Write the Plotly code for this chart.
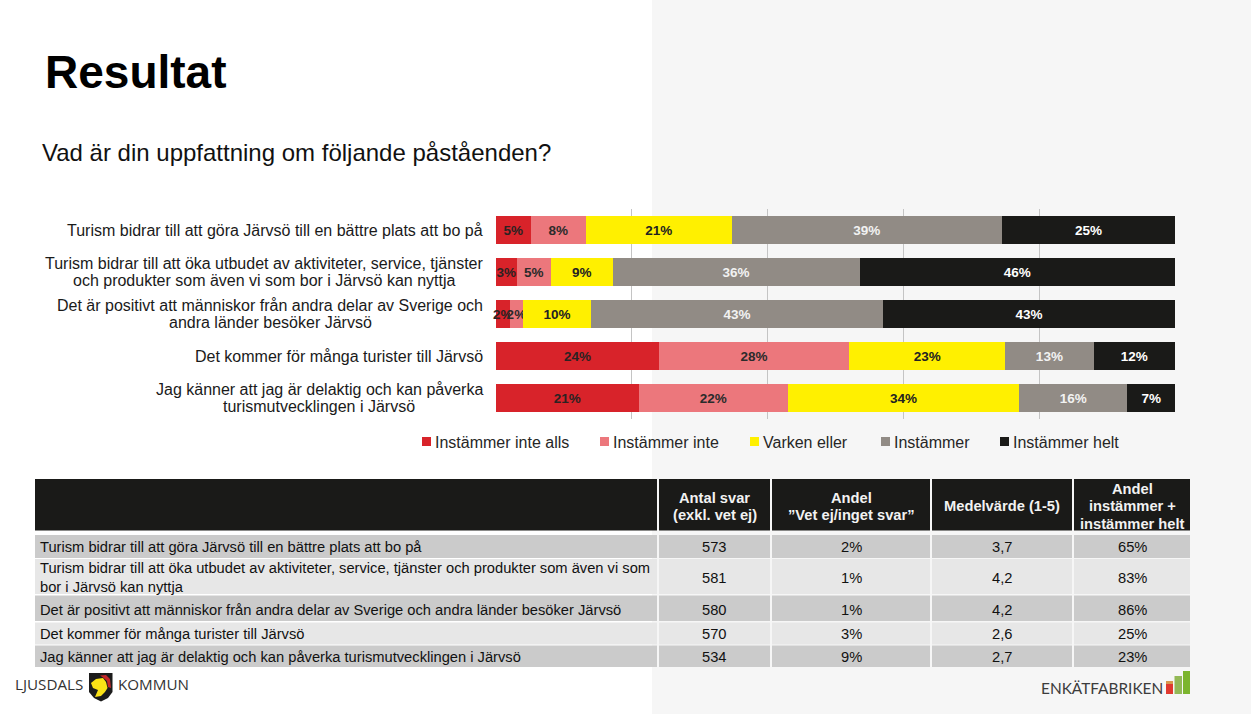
import plotly.graph_objects as go

W, H = 1251, 714
FONT = "Liberation Sans, Arial, sans-serif"

statement_lines = [
    ["Turism bidrar till att göra Järvsö till en bättre plats att bo på"],
    ["Turism bidrar till att öka utbudet av aktiviteter, service, tjänster", "och produkter som även vi som bor i Järvsö kan nyttja"],
    ["Det är positivt att människor från andra delar av Sverige och", "andra länder besöker Järvsö"],
    ["Det kommer för många turister till Järvsö"],
    ["Jag känner att jag är delaktig och kan påverka", "turismutvecklingen i Järvsö"],
]
statements = [" ".join(s) for s in statement_lines]
series_names = ["Instämmer inte alls", "Instämmer inte", "Varken eller", "Instämmer", "Instämmer helt"]
instammer_inte_alls = [5, 3, 2, 24, 21]
instammer_inte = [8, 5, 2, 28, 22]
varken_eller = [21, 9, 10, 23, 34]
instammer = [39, 36, 43, 13, 16]
instammer_helt = [25, 46, 43, 12, 7]

table_header = ["", "Antal svar<br>(exkl. vet ej)", "Andel<br>”Vet ej/inget svar”", "Medelvärde (1-5)", "Andel<br>instämmer +<br>instämmer helt"]
table_statements = [
    ["Turism bidrar till att göra Järvsö till en bättre plats att bo på"],
    ["Turism bidrar till att öka utbudet av aktiviteter, service, tjänster och produkter som även vi som", "bor i Järvsö kan nyttja"],
    ["Det är positivt att människor från andra delar av Sverige och andra länder besöker Järvsö"],
    ["Det kommer för många turister till Järvsö"],
    ["Jag känner att jag är delaktig och kan påverka turismutvecklingen i Järvsö"],
]
antal_svar = ["573", "581", "580", "570", "534"]
andel_vet_ej = ["2%", "1%", "1%", "3%", "9%"]
medelvarde = ["3,7", "4,2", "4,2", "2,6", "2,7"]
andel_instammer = ["65%", "83%", "86%", "25%", "23%"]

colors = ["#d8232a", "#ec777c", "#fff000", "#918b85", "#1a1a18"]
label_colors = ["#2b2222", "#2b2b2b", "#222222", "#f2f2f2", "#ffffff"]
series_values = [instammer_inte_alls, instammer_inte, varken_eller, instammer, instammer_helt]

fig = go.Figure()
for name, vals, c, lc in zip(series_names, series_values, colors, label_colors):
    fig.add_trace(go.Bar(
        y=statements, x=vals, name=name, orientation="h", marker=dict(color=c, line_width=0),
        text=[f"{v}%" for v in vals], textposition="inside", insidetextanchor="middle",
        constraintext="none", textangle=0,
        textfont=dict(family=FONT, size=13.5, color=lc, weight="bold"),
        hoverinfo="name+x", showlegend=False, cliponaxis=False,
    ))

px = lambda x: x / W
py = lambda y: 1 - y / H
shapes, ann = [], []

def rect(x0, y0, x1, y1, color, layer="below"):
    shapes.append(dict(type="rect", xref="paper", yref="paper", x0=px(x0), x1=px(x1), y0=py(y0), y1=py(y1),
                       fillcolor=color, line_width=0, layer=layer))

def text(x, y, s, size=14, color="#111111", anchor="left", bold=False, family=FONT):
    ann.append(dict(xref="paper", yref="paper", x=px(x - 2 if anchor == "left" else x), y=py(y),
                    text=f"<b>{s}</b>" if bold else s,
                    showarrow=False, xanchor=anchor, yanchor="middle", align=anchor,
                    font=dict(family=family, size=size, color=color)))

# page background
rect(652, 0, W, H, "#f6f6f6")
text(45, 72, "Resultat", 46, "#000000", bold=True)
text(42, 152.5, "Vad är din uppfattning om följande påståenden?", 24, "#111111")

# statement labels, tied to the category axis: first line flush right, second line centred under it
second_line_centre = [None, 263.5, 270.5, None, 319]
for s, lines, cx in zip(statements, statement_lines, second_line_centre):
    for k, line in enumerate(lines):
        ann.append(dict(xref="paper", yref="y", x=px(485 if k == 0 else cx), y=s,
                        yshift=(len(lines) - 1) / 2 * 17.5 - k * 17.5,
                        text=line, showarrow=False, xanchor="right" if k == 0 else "center", yanchor="middle",
                        font=dict(family=FONT, size=16, color="#1a1a1a")))

# legend
legend_x = [422, 600, 750, 881, 1000]
for lx, name, c in zip(legend_x, series_names, colors):
    rect(lx, 437, lx + 9, 446, c)
    text(lx + 13, 442, name, 16, "#262626")

# table
TS = 14.7
col_edges = [(35, 657), (659, 770), (772, 930), (932, 1072), (1074, 1190)]
for (a, b), h in zip(col_edges, table_header):
    rect(a, 479, b, 530.5, "#1a1a18")
    if h:
        lines = h.split("<br>")
        n = len(lines)
        for k, line in enumerate(lines):
            text((a + b) / 2, 506 + (k - (n - 1) / 2) * 17.5 + (0.5 if n == 2 else 0), line, TS, "#f2f2f2", "center", True)

row_edges = [(535, 558), (559, 594), (595.5, 621), (622.5, 644.5), (645.5, 667)]
row_text_y = [547, 577.5, 610, 634, 657]
row_fill = ["#cbcbcb", "#e7e7e7", "#cbcbcb", "#e7e7e7", "#cbcbcb"]
for r, (y0, y1) in enumerate(row_edges):
    for a, b in col_edges:
        rect(a, y0, b, y1, row_fill[r])
    yc = row_text_y[r]
    lines = table_statements[r]
    for k, line in enumerate(lines):
        text(40, yc + (k - (len(lines) - 1) / 2) * 18.5, line, TS)
    for (a, b), col in zip(col_edges[1:], [antal_svar, andel_vet_ej, medelvarde, andel_instammer]):
        text((a + b) / 2, yc, col[r], TS, "#111111", "center")

# logos
def path(points):
    return "M " + " L ".join(f"{px(x):.5f},{py(y):.5f}" for x, y in points) + " Z"

def poly(points, color):
    shapes.append(dict(type="path", xref="paper", yref="paper", path=path(points), fillcolor=color, line_width=0, layer="above"))

text(15, 684, "LJUSDALS", 15.2, "#333333", family="Open Sans")
text(118, 684, "KOMMUN", 15.2, "#333333", family="Open Sans")
poly([(89, 673), (112.5, 673), (112.5, 692), (108, 698), (101, 701.5), (94, 698), (89, 692)], "#1c1c1c")
poly([(100, 675.5), (106, 675), (110, 679), (111, 688), (108, 687), (107, 681), (103, 677.5)], "#c5282a")
poly([(91, 683), (96, 679), (103, 678), (106, 682), (107.5, 688), (105, 692), (101, 696), (95, 697), (98, 690), (93, 688)], "#fbe216")

text(1041, 688, "ENKÄTFABRIKEN", 15.4, "#3c3c3c", family="Lato, Open Sans")
rect(1166, 681, 1173, 694, "#e0392f", "above")
rect(1166, 681, 1173, 684, "#d8984f", "above")
rect(1174.5, 676, 1182, 694, "#93b956", "above")
rect(1183, 671, 1190, 694, "#7cb52e", "above")

fig.update_layout(
    width=W, height=H, autosize=False, margin=dict(l=0, r=0, t=0, b=0),
    paper_bgcolor="#ffffff", plot_bgcolor="rgba(0,0,0,0)",
    barmode="stack", barnorm="percent", bargap=1 / 3,
    font=dict(family=FONT, color="#111111"),
    shapes=shapes, annotations=ann, showlegend=False,
    xaxis=dict(domain=[496 / W, 1175 / W], range=[0, 100], tickvals=[0, 20, 40, 60, 80, 100],
               showticklabels=False, showgrid=True, gridcolor="#c4c4c4", gridwidth=1, zeroline=False, fixedrange=True),
    yaxis=dict(domain=[1 - 419 / H, 1 - 209 / H], autorange="reversed", type="category",
               showticklabels=False, ticks="", showline=False, showgrid=False, automargin=False, fixedrange=True),
)
fig.write_html("out.html", config=dict(displayModeBar=False),
               post_script="document.body.style.margin='0';document.documentElement.style.overflow='hidden';")
